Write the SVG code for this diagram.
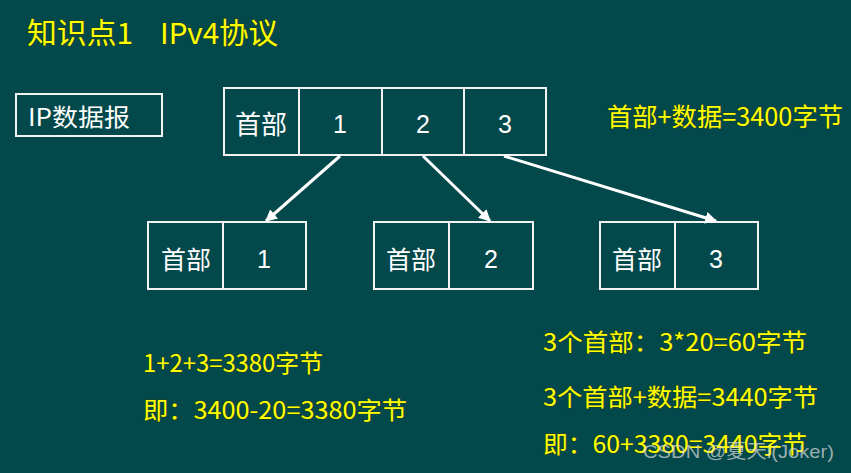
<svg xmlns="http://www.w3.org/2000/svg" width="851" height="473" viewBox="0 0 851 473">
<defs>
<style>
.bg{fill:#03484a}
.box{fill:none;stroke:#f2f2f2;stroke-width:2}
.w{fill:#ffffff;font-family:"Liberation Sans","Noto Sans CJK SC",sans-serif;font-size:25px;text-anchor:middle}
.wc{fill:#ffffff;font-family:"Noto Sans CJK SC",sans-serif;font-size:25px;text-anchor:middle}
.y{fill:#ffff00;font-family:"Noto Sans CJK SC",sans-serif;font-size:24px;stroke:#3a3a00;stroke-width:0.6;paint-order:stroke}
.conn{stroke:#ffffff;stroke-width:3;fill:none;marker-end:url(#ah)}
.wm{fill:#dddddd;fill-opacity:0.7;font-family:"Liberation Sans","Noto Sans CJK SC",sans-serif;font-size:19px}
</style>
<marker id="ah" viewBox="0 0 10 10" refX="9" refY="5" markerWidth="4" markerHeight="4" orient="auto" markerUnits="strokeWidth">
<path d="M0,0 L10,5 L0,10 Z" fill="#ffffff"/>
</marker>
</defs>
<rect class="bg" x="0" y="0" width="851" height="473"/>
<g id="title">
<text class="y" x="27" y="44" style="font-size:29px" textLength="106" lengthAdjust="spacingAndGlyphs">知识点1</text>
<text class="y" x="160" y="44" style="font-size:29px" textLength="118" lengthAdjust="spacingAndGlyphs">IPv4协议</text>
</g>
<g id="ip-label">
<rect class="box" x="16" y="94" width="146" height="42"/>
<text class="wc" x="28" y="126" style="text-anchor:start;font-size:24px" textLength="102" lengthAdjust="spacingAndGlyphs">IP数据报</text>
</g>
<g id="datagram">
<rect class="box" x="224" y="88" width="322" height="67"/>
<line class="box" x1="299" y1="88" x2="299" y2="155"/>
<line class="box" x1="382" y1="88" x2="382" y2="155"/>
<line class="box" x1="464" y1="88" x2="464" y2="155"/>
<text class="wc" x="261" y="134" style="font-size:26px">首部</text>
<text class="w" x="340" y="133">1</text>
<text class="w" x="423" y="133">2</text>
<text class="w" x="505" y="133">3</text>
</g>
<g id="frag1">
<rect class="box" x="148" y="222" width="158" height="67"/>
<line class="box" x1="223" y1="222" x2="223" y2="289"/>
<text class="wc" x="186" y="269">首部</text>
<text class="w" x="264" y="268">1</text>
</g>
<g id="frag2">
<rect class="box" x="374" y="222" width="159" height="67"/>
<line class="box" x1="449" y1="222" x2="449" y2="289"/>
<text class="wc" x="411" y="269">首部</text>
<text class="w" x="491" y="268">2</text>
</g>
<g id="frag3">
<rect class="box" x="600" y="222" width="158" height="67"/>
<line class="box" x1="675" y1="222" x2="675" y2="289"/>
<text class="wc" x="637" y="269">首部</text>
<text class="w" x="716" y="268">3</text>
</g>
<g id="connectors">
<line class="conn" x1="340" y1="156" x2="266" y2="221"/>
<line class="conn" x1="423" y1="156" x2="490" y2="221"/>
<line class="conn" x1="504" y1="156" x2="716" y2="221"/>
</g>
<g id="notes">
<text class="y" x="607" y="126" style="font-size:25px" textLength="236" lengthAdjust="spacingAndGlyphs">首部+数据=3400字节</text>
<text class="y" x="143" y="372" textLength="180" lengthAdjust="spacingAndGlyphs">1+2+3=3380字节</text>
<text class="y" x="143" y="419" textLength="264" lengthAdjust="spacingAndGlyphs">即：3400-20=3380字节</text>
<text class="y" x="543" y="351" textLength="264" lengthAdjust="spacingAndGlyphs">3个首部：3*20=60字节</text>
<text class="y" x="543" y="406" textLength="275" lengthAdjust="spacingAndGlyphs">3个首部+数据=3440字节</text>
<text class="y" x="543" y="453" textLength="264" lengthAdjust="spacingAndGlyphs">即：60+3380=3440字节</text>
</g>
<text class="wm" x="643" y="458" textLength="191" lengthAdjust="spacingAndGlyphs">CSDN @夏天i(Joker)</text>
</svg>
